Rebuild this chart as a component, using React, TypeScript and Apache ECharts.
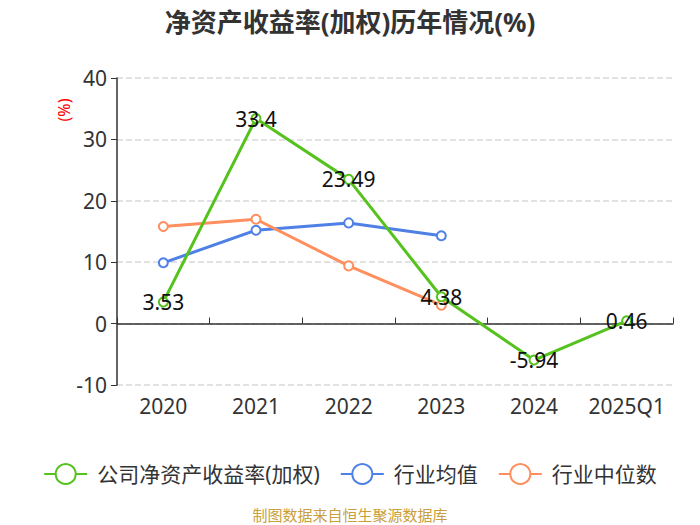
import React, { useEffect, useRef } from "react";
import * as echarts from "echarts";

const categories = ["2020", "2021", "2022", "2023", "2024", "2025Q1"];
const companyRoe = [3.53, 33.4, 23.49, 4.38, -5.94, 0.46];
const industryAvg = [9.9, 15.2, 16.4, 14.3, null, null];
const industryMedian = [15.8, 17.0, 9.4, 3.0, null, null];
const yTicks = { min: -10, max: 40, interval: 10 };

export default function App() {
  const ref = useRef<HTMLDivElement>(null);
  useEffect(() => {
    document.body.style.margin = "0";
    if (!ref.current) return;
    const chart = echarts.init(ref.current, null, { renderer: "svg" });
    const font = "'Noto Sans', 'Noto Sans CJK SC', sans-serif";
    chart.setOption({
      animation: false,
      textStyle: { fontFamily: font },
      title: {
        text: "净资产收益率(加权)历年情况(%)",
        left: "center",
        top: 4,
        textStyle: { fontSize: 26, fontWeight: "bold", color: "#333", fontFamily: font },
      },
      grid: { left: 117, right: 27, top: 78, bottom: 140 },
      legend: {
        top: 458,
        left: "center",
        itemWidth: 43,
        itemHeight: 25,
        itemGap: 20,
        lineStyle: { width: 2 },
        itemStyle: { borderWidth: 2 },
        textStyle: { fontSize: 21, color: "#333", fontFamily: font, padding: [0, 0, 0, 5] },
        data: ["公司净资产收益率(加权)", "行业均值", "行业中位数"],
      },
      graphic: [
        {
          type: "text",
          left: "center",
          top: 507,
          style: { text: "制图数据来自恒生聚源数据库", fill: "#c9a03c", fontSize: 15, fontFamily: font },
        },
        {
          type: "text",
          x: 56,
          y: 110,
          rotation: Math.PI / 2,
          style: {
            text: "(%)",
            fill: "#ff0000",
            fontSize: 16,
            fontFamily: font,
            align: "center",
            verticalAlign: "top",
          },
        },
      ],
      xAxis: [
        {
          type: "category",
          data: categories,
          position: "bottom",
          axisLine: { show: false, onZero: false },
          axisTick: { show: false },
          axisLabel: { fontSize: 21, color: "#333", margin: 10, interval: 0 },
        },
        {
          type: "category",
          data: categories,
          axisLine: { show: true, onZero: true, lineStyle: { color: "#333", width: 1.5 } },
          axisTick: { show: true, length: 6, interval: 0, lineStyle: { color: "#333" } },
          axisLabel: { show: false },
        },
      ],
      yAxis: {
        type: "value",
        min: yTicks.min,
        max: yTicks.max,
        interval: yTicks.interval,
        axisLine: { show: true, lineStyle: { color: "#333", width: 1.5 } },
        axisTick: { show: true, length: 6, lineStyle: { color: "#333" } },
        axisLabel: { fontSize: 21, color: "#333", margin: 10 },
        splitLine: { lineStyle: { type: "dashed", color: "#d9d9d9", width: 1.5 } },
      },
      series: [
        {
          name: "公司净资产收益率(加权)",
          type: "line",
          data: companyRoe,
          xAxisIndex: 0,
          symbol: "emptyCircle",
          symbolSize: 9,
          itemStyle: { color: "#56c21d" },
          lineStyle: { width: 3, color: "#56c21d" },
          label: { show: true, position: "inside", fontSize: 21, color: "#111" },
          z: 3,
        },
        {
          name: "行业均值",
          type: "line",
          data: industryAvg,
          xAxisIndex: 0,
          symbol: "emptyCircle",
          symbolSize: 9,
          itemStyle: { color: "#4e80e6" },
          lineStyle: { width: 3, color: "#4e80e6" },
          z: 2,
        },
        {
          name: "行业中位数",
          type: "line",
          data: industryMedian,
          xAxisIndex: 0,
          symbol: "emptyCircle",
          symbolSize: 9,
          itemStyle: { color: "#ff8f5e" },
          lineStyle: { width: 3, color: "#ff8f5e" },
          z: 2,
        },
      ],
    });
    return () => chart.dispose();
  }, []);
  return <div ref={ref} style={{ width: 700, height: 525 }} />;
}
